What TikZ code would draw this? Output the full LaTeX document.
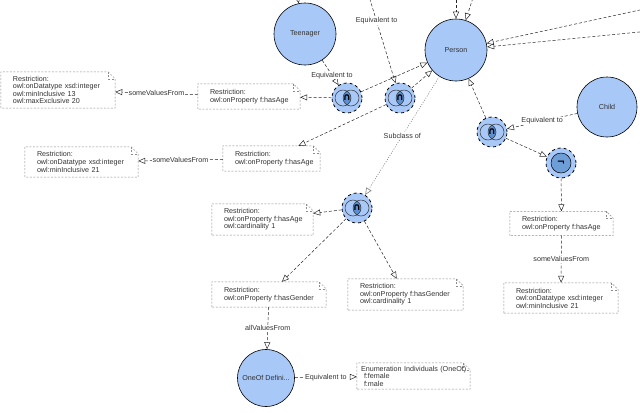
\documentclass[tikz,border=0pt]{standalone}
\usepackage{fontspec}
\setmainfont{Liberation Sans}
\newfontfamily\simbolo{DejaVu Sans}
\usepackage{tikz}
\usetikzlibrary{arrows.meta,positioning,calc}
\definecolor{azclaro}{HTML}{A8C8F8}
\definecolor{azoscuro}{HTML}{5B8FCF}
\definecolor{azneg}{HTML}{6E9ED8}
\definecolor{texto}{HTML}{333333}
\definecolor{borde}{HTML}{8C8C8C}
\newcommand{\chico}{\fontsize{7.2}{7.6}\selectfont}
\tikzset{
  clase/.style    = {circle, draw=black, line width=0.6bp, fill=azclaro, font=\chico,
                     text=texto, inner sep=0pt},
  inter/.style    = {circle, draw=black, dashed, line width=0.8bp, fill=azclaro,
                     minimum size=30bp, inner sep=0pt,
                     font=\simbolo\bfseries\fontsize{10}{10}\selectfont,
                     path picture={
                       \coordinate (pc) at (path picture bounding box.center);
                       \begin{scope}
                         \clip ([xshift=-4bp]pc) circle (8bp);
                         \fill[azoscuro] ([xshift=4bp]pc) circle (8bp);
                       \end{scope}
                       \draw[solid, line width=0.5bp, black!80] ([xshift=-4bp]pc) circle (8bp)
                         ([xshift=4bp]pc) circle (8bp);
                     }},
  negacion/.style = {circle, draw=black, dashed, line width=0.8bp, fill=azclaro,
                     minimum size=30bp, inner sep=0pt,
                     font=\simbolo\bfseries\fontsize{10}{10}\selectfont,
                     path picture={
                       \coordinate (pc) at (path picture bounding box.center);
                       \draw[solid, line width=0.5bp, fill=azneg] (pc) circle (10bp);
                     }},
  restr/.style 2 args = {fill=white, font=\chico, text=texto, align=left,
                     text width=#1, minimum height=#2, inner xsep=12bp, inner ysep=0pt},
  nota/.style     = {draw=borde, line width=0.5bp, dash pattern=on 2bp off 1.5bp},
  flecha/.style   = {-{Triangle[open, length=7bp, width=6bp]}, black!85,
                     line width=0.5bp, dash pattern=on 3bp off 2bp},
  flechap/.style  = {-{Triangle[open, length=7bp, width=6bp]}, black!50,
                     line width=0.6bp, dash pattern=on 1bp off 1.5bp},
  lbl/.style      = {font=\chico, text=texto, fill=white, inner sep=1bp},
}

\begin{document}
\begin{tikzpicture}[x=1bp, y=-1bp]
  \useasboundingbox (0,0) rectangle (640,412);
  \clip (0,0) rectangle (640,412);
  % clases
  \node[clase, minimum size=62bp] (teen) at (305,34) {Teenager};
  \node[clase, minimum size=62bp] (person) at (456,50) {Person};
  \node[clase, minimum size=60bp] (child) at (607,107) {Child};
  \node[clase, minimum size=57bp] (oneof) at (266,378) {OneOf Defini...};
  % operadores
  \node[inter] (and1) at (347,98) {∩};
  \node[inter] (and2) at (400,98) {∩};
  \node[inter] (and3) at (492,132) {∩};
  \node[negacion] (neg) at (561,163) {¬};
  \node[inter] (and4) at (357,208) {∩};
  % restricciones
  \node[restr={90bp}{36bp}] (r1) at (58,90)
    {Restriction:\\owl:onDatatype~xsd:integer\\owl:minInclusive~13\\owl:maxExclusive~20};
  \node[restr={78bp}{25bp}] (r2) at (249,96.5)
    {Restriction:\\owl:onProperty~f:hasAge};
  \node[restr={89bp}{30bp}] (r3) at (81.5,162)
    {Restriction:\\owl:onDatatype~xsd:integer\\owl:minInclusive~21};
  \node[restr={73bp}{25bp}] (r4) at (271.5,158.5)
    {Restriction:\\\mbox{owl:onProperty f:hasAge}};
  \node[restr={77bp}{31bp}] (r5) at (262.5,219.5)
    {Restriction:\\owl:onProperty~f:hasAge\\owl:cardinality~1};
  \node[restr={90bp}{25bp}] (r6) at (269,294.5)
    {Restriction:\\owl:onProperty~f:hasGender};
  \node[restr={91bp}{31bp}] (r7) at (405.5,294.5)
    {Restriction:\\owl:onProperty~f:hasGender\\owl:cardinality~1};
  \node[restr={79bp}{24bp}] (r8) at (561.5,223.5)
    {Restriction:\\owl:onProperty~f:hasAge};
  \node[restr={90bp}{30bp}] (r9) at (561,298)
    {Restriction:\\owl:onDatatype~xsd:integer\\owl:minInclusive~21};
  \node[restr={105bp}{26bp}, inner xsep=4bp] (enum) at (413.5,376)
    {\mbox{Enumeration Individuals (OneOf)}\\\hspace*{3bp}f:female\\\hspace*{3bp}f:male};
  \foreach \n in {r1,r2,r3,r4,r5,r6,r7,r8,r9,enum}{
    \draw[nota] (\n.south west) -- (\n.north west) -- ([xshift=-7bp]\n.north east)
      -- ([yshift=-7bp]\n.north east) -- (\n.south east) -- cycle;
    \draw[nota] ([xshift=-7bp]\n.north east) |- ([yshift=-7bp]\n.north east);
  }
  % extremos fuera del cuadro
  \coordinate (entTeen) at (292,-30);
  \coordinate (entB) at (361,-30);
  \coordinate (entP1) at (456,-30);
  \coordinate (entP2) at (482,-30);
  \coordinate (entP3) at (660,5.6);
  \coordinate (entP4) at (660,30);
  % conexiones
  \draw[flecha] (entTeen) -- (teen);
  \draw[flecha] (teen) -- node[lbl,pos=0.6]{Equivalent to} (and1);
  \draw[flecha] (and1) -- (r2);
  \draw[flecha] (r2) -- node[lbl]{someValuesFrom} (r1);
  \draw[flecha] (and1) -- (person);
  \draw[flecha] (entB) -- node[lbl,pos=0.45]{Equivalent to} (and2);
  \draw[flecha] (and2) -- (person);
  \draw[flecha] (and2) -- (r4);
  \draw[flecha] (r4) -- node[lbl]{someValuesFrom} (r3);
  \draw[flechap] (person) -- node[lbl]{Subclass of} (and4);
  \draw[flecha] (entP1) -- (person);
  \draw[flecha] (entP2) -- (person);
  \draw[flecha] (entP3) -- (person);
  \draw[flecha] (entP4) -- (person);
  \draw[flecha] (and3) -- (person);
  \draw[flecha] (child) -- node[lbl]{Equivalent to} (and3);
  \draw[flecha] (and3) -- (neg);
  \draw[flecha] (neg) -- (r8);
  \draw[flecha] (r8) -- node[lbl]{someValuesFrom} (r9);
  \draw[flecha] (and4) -- (r5);
  \draw[flecha] (and4) -- (r6);
  \draw[flecha] (and4) -- (r7);
  \draw[flecha] (r6) -- node[lbl]{allValuesFrom} (oneof);
  \draw[flecha] (oneof) -- node[lbl]{Equivalent to} (enum);
\end{tikzpicture}
\end{document}
